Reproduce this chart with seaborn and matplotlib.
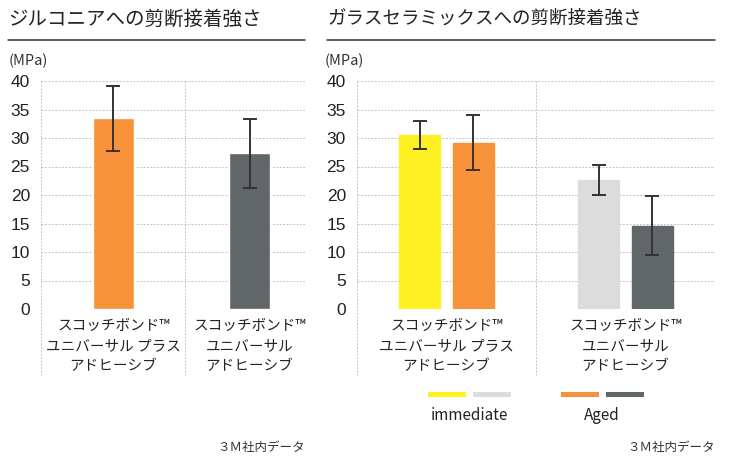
import matplotlib
matplotlib.use("Agg")
import matplotlib.pyplot as plt
import seaborn as sns
import pandas as pd
from matplotlib.patches import Rectangle

sns.set_theme(style="white")
plt.rcParams['font.family'] = ['Noto Sans CJK JP', 'DejaVu Sans']

# ---- data ----
left_title = "ジルコニアへの剪断接着強さ"
right_title = "ガラスセラミックスへの剪断接着強さ"
products = ["スコッチボンド™\nユニバーサル プラス\nアドヒーシブ",
            "スコッチボンド™\nユニバーサル\nアドヒーシブ"]

left_values = [33.5, 27.3]
left_errors = [5.7, 6.0]
left_colors = ["#F7923A", "#616668"]

conditions = ["immediate", "Aged"]
right_product = [products[0], products[0], products[1], products[1]]
right_condition = ["immediate", "Aged", "immediate", "Aged"]
right_values = [30.5, 29.2, 22.6, 14.6]
right_errors = [2.5, 4.9, 2.6, 5.2]
right_colors = ["#FFF023", "#F7923A", "#DCDCDC", "#616668"]

yticks = [0, 5, 10, 15, 20, 25, 30, 35, 40]
unit_label = "(MPa)"
source = "３Ｍ社内データ"

W, H = 732, 457
fig = plt.figure(figsize=(W / 100, H / 100), dpi=100)


def fx(px):
    return px / W


def fy(py):
    return 1 - py / H


grid_color = "#C4C4C4"


def style_axes(ax, xlim, seps):
    ax.set_ylim(0, 40)
    ax.set_xlim(*xlim)
    ax.set_yticks(yticks)
    ax.set_yticklabels([str(t) for t in yticks], fontsize=12.5, color="#222222",
                       family=['Liberation Sans', 'DejaVu Sans'])
    ax.tick_params(axis='y', length=0, pad=8)
    ax.tick_params(axis='x', length=0, pad=7)
    for lab in ax.get_xticklabels():
        lab.set_fontsize(10.5)
        lab.set_color("#222222")
        lab.set_linespacing(1.55)
        lab.set_verticalalignment('top')
    for s in ax.spines.values():
        s.set_visible(False)
    for t in yticks:
        ax.axhline(t, color=grid_color, lw=0.7, ls=(0, (2, 1.5)), zorder=0)
    ax.set_xlabel("")
    ax.set_ylabel("")
    # vertical separators extending below the axis
    for xb in seps:
        ax.plot([xb, xb], [40, -11.6], color=grid_color, lw=0.7,
                ls=(0, (2, 1.5)), clip_on=False, zorder=0)


# ---- left chart ----
axL = fig.add_axes([fx(41), fy(309), fx(305 - 41), (309 - 81) / H])
dfL = pd.DataFrame({"product": products, "value": left_values})
sns.barplot(data=dfL, x="product", y="value", hue="product", palette=left_colors,
            saturation=1, width=0.30, legend=False, ax=axL, zorder=2)
for p, e in zip(axL.patches, left_errors):
    cx = p.get_x() + p.get_width() / 2
    axL.errorbar(cx, p.get_height(), yerr=e, color="#333333", lw=1.4,
                 capsize=5, capthick=1.4, zorder=3)
style_axes(axL, (-0.533, 1.408), [-0.533, 0.526])

# ---- right chart ----
axR = fig.add_axes([fx(357), fy(309), fx(715 - 357), (309 - 81) / H])
dfR = pd.DataFrame({"product": right_product, "condition": right_condition,
                    "value": right_values})
sns.barplot(data=dfR, x="product", y="value", hue="condition",
            hue_order=conditions, order=products, palette=["#FFF023", "#F7923A"],
            saturation=1, width=0.6, gap=0.23, legend=False, ax=axR, zorder=2)
bars = sorted(axR.patches, key=lambda p: p.get_x())
for p, c, e in zip(bars, right_colors, right_errors):
    p.set_facecolor(c)
    p.set_edgecolor(c)
    cx = p.get_x() + p.get_width() / 2
    axR.errorbar(cx, p.get_height(), yerr=e, color="#333333", lw=1.4,
                 capsize=5, capthick=1.4, zorder=3)
style_axes(axR, (-0.5, 1.5), [-0.5, 0.5])

# ---- titles, rules, units, sources ----
fig.text(fx(8), fy(19), left_title, fontsize=14, color="#222222", va="center")
fig.text(fx(327), fy(19), right_title, fontsize=13.3, color="#222222", va="center")
fig.add_artist(plt.Line2D([fx(8), fx(305)], [fy(40), fy(40)], color="#333333", lw=1.1))
fig.add_artist(plt.Line2D([fx(327), fx(715)], [fy(40), fy(40)], color="#333333", lw=1.1))
fig.text(fx(9), fy(61), unit_label, fontsize=10.5, color="#333333", va="center")
fig.text(fx(325), fy(61), unit_label, fontsize=10.5, color="#333333", va="center")
fig.text(fx(305), fy(447), source, fontsize=9, color="#333333", ha="right", va="center")
fig.text(fx(715), fy(447), source, fontsize=9, color="#333333", ha="right", va="center")

# ---- legend ----
sw = [(428, "#FFF023"), (473, "#DCDCDC"), (561, "#F7923A"), (606, "#616668")]
for x0, c in sw:
    fig.add_artist(Rectangle((fx(x0), fy(397)), fx(38), 5 / H, facecolor=c,
                             edgecolor="none", transform=fig.transFigure))
fig.text(fx(469), fy(416), conditions[0], fontsize=11, color="#222222",
         ha="center", va="center")
fig.text(fx(602), fy(416), conditions[1], fontsize=11, color="#222222",
         ha="center", va="center")

fig.savefig("out.png", dpi=100)
